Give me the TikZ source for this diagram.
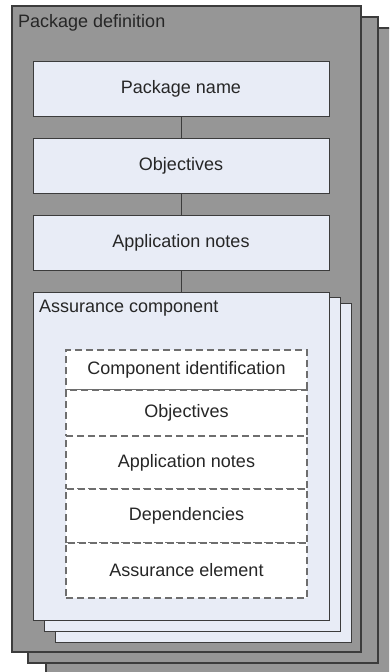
\documentclass[tikz,border=0pt]{standalone}
\usepackage{fontspec}
\setmainfont{Liberation Sans}
\definecolor{sheetgray}{RGB}{150,150,150}
\definecolor{paleblue}{RGB}{232,236,246}
\definecolor{framegray}{RGB}{60,60,60}
\definecolor{dashgray}{RGB}{110,110,110}
\definecolor{inktext}{RGB}{38,38,38}
\begin{document}
\begin{tikzpicture}[x=1pt, y=-1pt,
    font=\fontsize{18}{21}\selectfont, text=inktext,
    sheet/.style={draw=framegray, fill=sheetgray, line width=1.2pt},
    card/.style={draw=framegray, fill=paleblue, line width=1pt},
    field/.style={card, minimum width=296pt, minimum height=55pt},
    part/.style={draw=dashgray, fill=white, dash pattern=on 7pt off 4pt,
      line width=1.1pt, minimum width=241pt}]
  \clip (0,0) rectangle (389,672);
  % package definition sheets
  \draw[sheet] (46,28) rectangle (394,674);
  \draw[sheet] (28,17) rectangle (378,663);
  \draw[sheet] (12,6) rectangle (361,652);
  \node[anchor=west, inner sep=0] (pkgdef) at (18,23) {Package definition};
  % package fields
  \node[field] (pkgname) at (181,88.5) {Package name};
  \node[field] (objectives) at (181,165.5) {Objectives};
  \node[field] (appnotes) at (181,242.5) {Application notes};
  % assurance component cards
  \draw[card] (55,303) rectangle (351,642);
  \draw[card] (44,297) rectangle (340,631);
  \node[card, minimum width=296pt, minimum height=328pt] (component) at (181,456) {};
  \node[anchor=west, inner sep=0] (complabel) at (39,308) {Assurance component};
  \draw[framegray, line width=1pt] (pkgname) -- (objectives);
  \draw[framegray, line width=1pt] (objectives) -- (appnotes);
  \draw[framegray, line width=1pt] (appnotes) -- (component);
  % component parts
  \node[part, minimum height=40pt] (ident) at (186.5,370) {Component identification};
  \node[part, minimum height=46pt] (compobj) at (186.5,413) {Objectives};
  \node[part, minimum height=53pt] (compnotes) at (186.5,462.5) {Application notes};
  \node[part, minimum height=54pt] (deps) at (186.5,516) {Dependencies};
  \node[part, minimum height=55pt] (element) at (186.5,570.5) {Assurance element};
\end{tikzpicture}
\end{document}
